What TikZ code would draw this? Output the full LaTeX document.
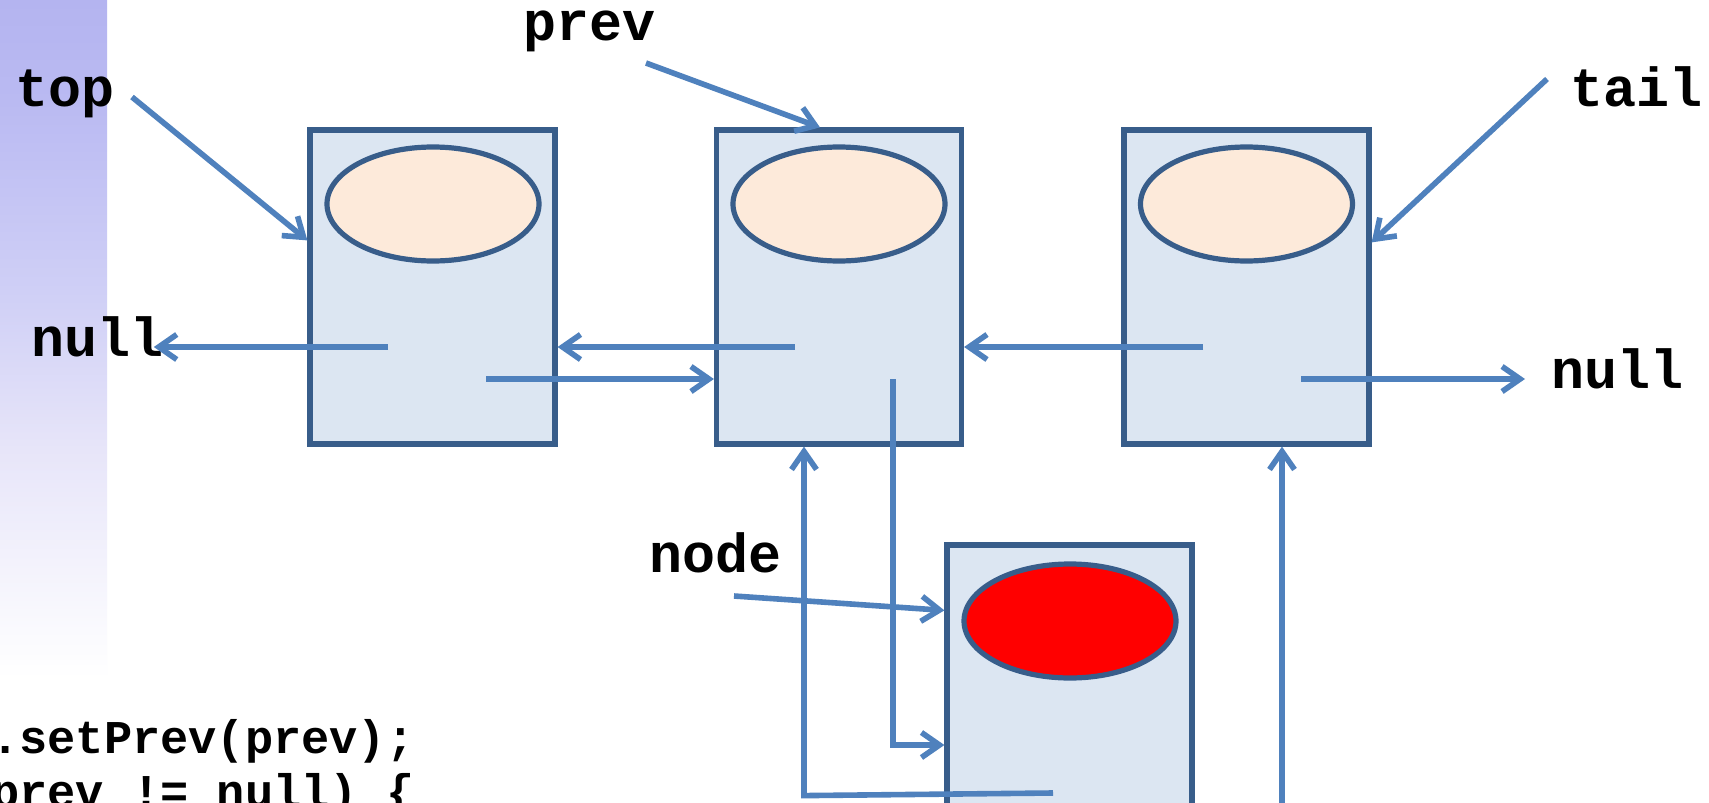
\documentclass[tikz,border=0pt]{standalone}
\usepackage{fontspec}
\setmonofont{Liberation Mono}
\usetikzlibrary{arrows.meta,calc,shapes.geometric}
\definecolor{ptrblue}{HTML}{4F81BD}
\definecolor{boxline}{HTML}{385D8A}
\definecolor{boxfill}{HTML}{DCE6F2}
\definecolor{peach}{HTML}{FDEADA}
\definecolor{bandtop}{HTML}{B4B4F0}
\definecolor{bandhi}{HTML}{BABAF2}
\definecolor{bandmid}{HTML}{D0D0F6}
\definecolor{bandlo}{HTML}{E7E5F9}
\definecolor{bandend}{HTML}{FBFBFE}
\pgfdeclareverticalshading{bandshade}{100bp}{color(0bp)=(white); color(25bp)=(white); color(28bp)=(bandend); color(42bp)=(bandlo); color(53bp)=(bandmid); color(67.5bp)=(bandhi); color(75bp)=(bandtop); color(100bp)=(bandtop)}
\begin{document}
\begin{tikzpicture}[x=0.5pt,y=-0.5pt,
  listbox/.style={rectangle,draw=boxline,fill=boxfill,line width=2.6pt,minimum width=122.5pt,minimum height=157pt,inner sep=0pt},
  val/.style={ellipse,draw=boxline,fill=peach,line width=2.6pt,minimum width=106pt,minimum height=57pt,inner sep=0pt},
  lbl/.style={font=\ttfamily\bfseries\fontsize{27.5}{33}\selectfont,anchor=base west,inner sep=0pt},
  codeline/.style={font=\ttfamily\bfseries\fontsize{23.5}{28}\selectfont,anchor=base west,inner sep=0pt},
  ptr/.style={draw=ptrblue,line width=2.8pt,-{Straight Barb[length=9pt,width=12.5pt]}},
  ]
\clip (0,0) rectangle (1709,803);
\fill[white] (0,0) rectangle (1709,803);
\shade[shading=bandshade] (0,0) rectangle (107,680);

% list boxes
\node[listbox] (b1) at (432.5,287) {};
\node[listbox] (b2) at (839,287) {};
\node[listbox] (b3) at (1246.5,287) {};
\node[listbox] (b4) at (1069.5,702) {};

% values
\node[val] (v1) at (433,204) {};
\node[val] (v2) at (839,204) {};
\node[val] (v3) at (1246.5,204) {};
\node[val,fill=red] (v4) at (1070,621) {};

% labels
\node[lbl] (topL) at (15,106) {top};
\node[lbl] (prevL) at (523,40) {prev};
\node[lbl] (tailL) at (1570,106) {tail};
\node[lbl] (nullL) at (31,356) {null};
\node[lbl] (nullR) at (1551,388) {null};
\node[lbl] (nodeL) at (649,572) {node};

% code
\node[codeline] (code1) at (-9,753) {.setPrev(prev);};
\node[codeline] (code2) at (-9,807) {prev != null) \{};

% pointer starts
\coordinate (n1) at (388,347);
\coordinate (x1) at (486,379);
\coordinate (n2) at (795,347);
\coordinate (x2) at (893,379);
\coordinate (n3) at (1203,347);
\coordinate (x3) at (1301,379);
\coordinate (n4) at (1053,793);
\coordinate (x4) at (1282,840);
\coordinate (ts) at (132,97);
\coordinate (ps) at (646,63);
\coordinate (tls) at (1547,79);
\coordinate (ns) at (734,596);

% pointers
\draw[ptr] (n1) -- ([xshift=-5pt]nullL.east |- n1);
\draw[ptr] (x1) -- (b2.west |- x1);
\draw[ptr] (n2) -- (b1.east |- n2);
\draw[ptr] (x2) -- (x2 |- 0,745) -- ($(b4.west)+(0,43)$);
\draw[ptr] (n3) -- (b2.east |- n3);
\draw[ptr] (x3) -- ([xshift=-13pt]nullR.west |- x3);
\draw[ptr] (n4) -- ($(b2.south)+(-35,793-444)$) -- ($(b2.south)+(-35,0)$);
\draw[ptr] (x4) -- (x4 |- b3.south);
\draw[ptr] (ts) -- ($(b1.north west)+(0,113)$);
\draw[ptr] (ps) -- ($(b2.north)+(-19,0)$);
\draw[ptr] (tls) -- ($(b3.north east)+(0,115)$);
\draw[ptr] (ns) -- ($(b4.north west)+(0,68)$);
\end{tikzpicture}
\end{document}
